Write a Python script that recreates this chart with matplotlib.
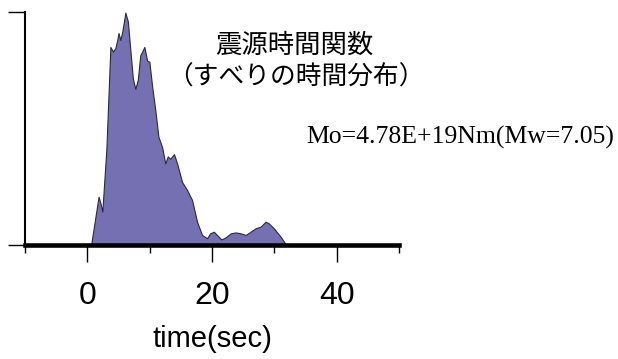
import matplotlib
matplotlib.use('Agg')
import matplotlib.pyplot as plt
import numpy as np
from matplotlib.ticker import FixedLocator

# source time function (moment rate, normalized)
time_sec = [-10, 0.6, 1.8, 2.1, 2.4, 3.05, 3.7, 4.1, 4.5, 4.8, 5.0, 5.3, 5.6, 6.1,
            6.5, 6.9, 7.3, 7.7, 8.1, 8.5, 8.8, 9.15, 9.6, 9.95, 10.4, 10.9, 11.4,
            12.0, 12.5, 12.9, 13.3, 13.9, 14.4, 15.2, 16.0, 16.8, 17.6, 18.4,
            19.2, 19.7, 20.3, 20.8, 21.5, 22.2, 23.0, 23.8, 24.6, 25.4, 26.2,
            27.0, 27.8, 28.6, 29.1, 29.9, 31.0, 31.9, 50]
moment_rate = [0, 0, 0.207, 0.18, 0.143, 0.41, 0.85, 0.83, 0.845, 0.88, 0.91, 0.88,
               0.915, 0.997, 0.96, 0.837, 0.715, 0.67, 0.71, 0.815, 0.83, 0.85,
               0.79, 0.787, 0.68, 0.58, 0.465, 0.42, 0.35, 0.38, 0.37, 0.39, 0.35,
               0.27, 0.236, 0.193, 0.1, 0.043, 0.029, 0.05, 0.057, 0.043, 0.024,
               0.033, 0.05, 0.054, 0.05, 0.043, 0.057, 0.072, 0.079, 0.1, 0.093,
               0.072, 0.036, 0.0, 0]

major_ticks = [0, 20, 40]
minor_ticks = [-10, 10, 30, 50]

title_lines = ['震源時間関数', '（すべりの時間分布）']
moment_label = 'Mo=4.78E+19Nm(Mw=7.05)'

fig = plt.figure(figsize=(6.18, 3.59), dpi=100)
ax = fig.add_axes([25 / 618, 1 - 245 / 359, 374 / 618, 233 / 359])

ax.fill_between(time_sec, moment_rate, 0, facecolor='#7470b2',
                edgecolor='#2a2a3a', linewidth=0.8, zorder=2)

ax.set_xlim(-10, 50)
ax.set_ylim(0, 1.0)

for side in ('top', 'right'):
    ax.spines[side].set_visible(False)
ax.spines['bottom'].set_linewidth(3.3)
ax.spines['left'].set_linewidth(1.5)
ax.spines['bottom'].set_zorder(3)

ax.xaxis.set_major_locator(FixedLocator(major_ticks))
ax.xaxis.set_minor_locator(FixedLocator(minor_ticks))
ax.tick_params(axis='x', which='major', direction='out', length=12, width=1.0,
               pad=14, labelsize=23)
ax.tick_params(axis='x', which='minor', direction='out', length=6, width=1.0)
for lbl in ax.get_xticklabels():
    lbl.set_family(['Liberation Sans'])

ax.set_yticks([0, 1.0])
ax.set_yticklabels([])
ax.tick_params(axis='y', direction='out', length=12, width=1.0)

ax.set_xlabel('time(sec)', fontsize=21, family=['Liberation Sans'], labelpad=10)

fig.text(294 / 618, 1 - 45 / 359, title_lines[0], ha='center', va='center',
         fontsize=19, family=['Noto Sans CJK JP', 'DejaVu Sans'])
fig.text(296 / 618, 1 - 78 / 359, title_lines[1], ha='center', va='center',
         fontsize=18.5, family=['Noto Sans CJK JP', 'DejaVu Sans'])
fig.text(460 / 618, 1 - 137 / 359, moment_label, ha='center', va='center',
         fontsize=18.5, family=['Liberation Serif'])

fig.savefig('out.png', dpi=100)
